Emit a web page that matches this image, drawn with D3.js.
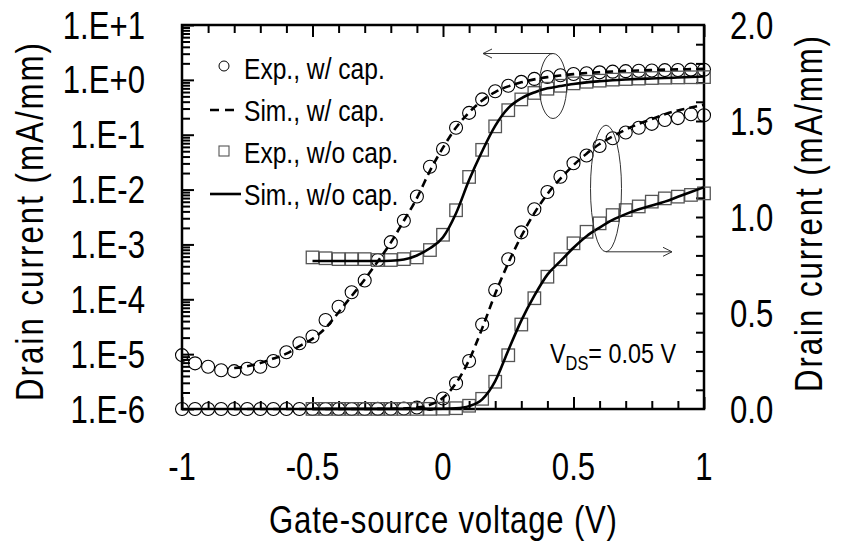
<!DOCTYPE html>
<html>
<head>
<meta charset="utf-8">
<script src="https://cdn.jsdelivr.net/npm/d3@7"></script>
<style>
  body { margin: 0; background: #fff; }
  svg { display: block; }
  text { font-family: "Liberation Sans", Arial, sans-serif; fill: #000; }
</style>
</head>
<body>
<svg id="chart" width="842" height="547"></svg>
<script>
// Gate-source voltage grids (V)
const vgExpCap = [-1.00,-0.95,-0.90,-0.85,-0.80,-0.75,-0.70,-0.65,-0.60,-0.55,-0.50,-0.45,-0.40,-0.35,-0.30,-0.25,-0.20,-0.15,-0.10,-0.05,
                  0.00,0.05,0.10,0.15,0.20,0.25,0.30,0.35,0.40,0.45,0.50,0.55,0.60,0.65,0.70,0.75,0.80,0.85,0.90,0.95,1.00];
// Measured drain current with cap (mA/mm)
const idExpCap = [9.6e-6,6.8e-6,5.9e-6,5.1e-6,4.9e-6,5.4e-6,5.9e-6,7.5e-6,1.08e-5,1.58e-5,2.1e-5,4.2e-5,7.3e-5,1.34e-4,2.2e-4,5.2e-4,1.1e-3,2.7e-3,7.5e-3,0.026,
                  0.055,0.134,0.25,0.44,0.62,0.78,0.92,1.04,1.13,1.21,1.28,1.32,1.37,1.41,1.44,1.465,1.485,1.505,1.515,1.535,1.53];

const vgExpNoCap = [-0.50,-0.45,-0.40,-0.35,-0.30,-0.25,-0.20,-0.15,-0.10,-0.05,
                    0.00,0.05,0.10,0.15,0.20,0.25,0.30,0.35,0.40,0.45,0.50,0.55,0.60,0.65,0.70,0.75,0.80,0.85,0.90,0.95,1.00];
// Measured drain current without cap (mA/mm)
const idExpNoCap = [5.8e-4,5.6e-4,5.4e-4,5.4e-4,5.4e-4,5.2e-4,5.2e-4,5.4e-4,5.8e-4,7.9e-4,
                    1.5e-3,4.2e-3,0.017,0.053,0.142,0.28,0.44,0.577,0.689,0.78,0.863,0.923,0.967,1.01,1.036,1.055,1.08,1.097,1.106,1.115,1.123];

const vgSimCap = [-0.80,-0.75,-0.70,-0.65,-0.60,-0.55,-0.50,-0.45,-0.40,-0.35,-0.30,-0.25,-0.20,-0.15,-0.10,-0.05,
                  0.00,0.05,0.10,0.15,0.20,0.25,0.30,0.35,0.40,0.45,0.50,0.55,0.60,0.65,0.70,0.75,0.80,0.85,0.90,0.95,1.00];
// Simulated drain current with cap (mA/mm)
const idSimCap = [5.6e-6,6.0e-6,6.9e-6,8.3e-6,1.02e-5,1.4e-5,1.9e-5,3.0e-5,5.8e-5,1.15e-4,2.3e-4,4.9e-4,1.08e-3,2.7e-3,7.0e-3,0.022,
                  0.058,0.135,0.255,0.42,0.60,0.76,0.90,1.02,1.12,1.20,1.27,1.33,1.38,1.42,1.455,1.485,1.51,1.535,1.555,1.57,1.585];

const vgSimNoCap = [-0.50,-0.45,-0.40,-0.35,-0.30,-0.25,-0.20,-0.15,-0.10,-0.05,
                    0.00,0.05,0.10,0.15,0.20,0.25,0.30,0.35,0.40,0.45,0.50,0.55,0.60,0.65,0.70,0.75,0.80,0.85,0.90,0.95,1.00];
// Simulated drain current without cap (mA/mm)
const idSimNoCap = [5.0e-4,5.0e-4,5.0e-4,5.0e-4,5.0e-4,5.0e-4,5.05e-4,5.3e-4,6.3e-4,8.5e-4,
                    1.35e-3,3.7e-3,0.0149,0.05,0.145,0.305,0.46,0.59,0.70,0.77,0.84,0.90,0.945,0.985,1.015,1.04,1.06,1.08,1.105,1.13,1.155];

// Axis ticks and labels
const xMajorTicks = [-1, -0.5, 0, 0.5, 1];
const xTickLabels = ["-1", "-0.5", "0", "0.5", "1"];
const logDecades = [1e-6, 1e-5, 1e-4, 1e-3, 1e-2, 1e-1, 1e0, 1e1];
const logTickLabels = ["1.E-6", "1.E-5", "1.E-4", "1.E-3", "1.E-2", "1.E-1", "1.E+0", "1.E+1"];
const linMajorTicks = [0, 0.5, 1.0, 1.5, 2.0];
const linTickLabels = ["0.0", "0.5", "1.0", "1.5", "2.0"];
const legendLabels = ["Exp., w/ cap.", "Sim., w/ cap.", "Exp., w/o cap.", "Sim., w/o cap."];

const svg = d3.select("#chart");
const L = 182, R = 704, T = 25, B = 409;
const NARROW = 0.82; // horizontal squeeze giving a condensed face

const x = d3.scaleLinear().domain([-1, 1]).range([L, R]);
const yLog = d3.scaleLog().domain([1e-6, 1e1]).range([B, T]);
const yLin = d3.scaleLinear().domain([0, 2]).range([B, T]);

// text helper: condensed text placed at (px, py)
function label(g, str, px, py, size, anchor, rot, len) {
  const t = g.append("text")
    .attr("transform", `translate(${px},${py})` + (rot ? ` rotate(${rot})` : "") + ` scale(${NARROW},1)`)
    .attr("text-anchor", anchor || "middle")
    .attr("font-size", size)
    .text(str);
  if (len) t.attr("textLength", len / NARROW).attr("lengthAdjust", "spacing");
  return t;
}

// ---- ticks (all pointing inward) ----
const minorX = d3.range(-10, 11).map(k => k / 10).filter(v => Math.abs(v * 2 - Math.round(v * 2)) > 1e-9);
function ticksX(vals, len) {
  svg.append("g").attr("transform", `translate(0,${B})`)
    .call(d3.axisBottom(x).tickValues(vals).tickSize(-len).tickFormat(""))
    .call(g => g.select(".domain").remove());
  svg.append("g").attr("transform", `translate(0,${T})`)
    .call(d3.axisTop(x).tickValues(vals).tickSize(-len).tickFormat(""))
    .call(g => g.select(".domain").remove());
}
ticksX(minorX, 8);
ticksX(xMajorTicks, 12);

const logMinor = [];
logDecades.slice(0, -1).forEach(d => { for (let k = 2; k <= 9; k++) logMinor.push(k * d); });
svg.append("g").attr("transform", `translate(${L},0)`)
  .call(d3.axisLeft(yLog).tickValues(logMinor).tickSize(-8).tickFormat(""))
  .call(g => g.select(".domain").remove());
svg.append("g").attr("transform", `translate(${L},0)`)
  .call(d3.axisLeft(yLog).tickValues(logDecades).tickSize(-12).tickFormat(""))
  .call(g => g.select(".domain").remove());

const linMinor = d3.range(1, 20).map(k => k / 10);
svg.append("g").attr("transform", `translate(${R},0)`)
  .call(d3.axisRight(yLin).tickValues(linMinor).tickSize(-8).tickFormat(""))
  .call(g => g.select(".domain").remove());

svg.selectAll(".tick line").attr("stroke", "#000").attr("stroke-width", 2);

// plot frame
svg.append("rect").attr("x", L).attr("y", T).attr("width", R - L).attr("height", B - T)
  .attr("fill", "none").attr("stroke", "#000").attr("stroke-width", 2.5);

// ---- tick labels ----
const labels = svg.append("g");
xMajorTicks.forEach((v, i) => label(labels, xTickLabels[i], x(v), 480, 38, "middle"));
logDecades.forEach((d, i) => label(labels, logTickLabels[i], 145, yLog(d) + 13.5, 38, "end"));
linMajorTicks.forEach((v, i) => label(labels, linTickLabels[i], 730, yLin(v) + 13.5, 38, "start"));

// axis titles
label(labels, "Gate-source voltage (V)", x(0), 533, 38, "middle", 0, 348);
label(labels, "Drain current (mA/mm)", 43, 222, 38, "middle", -90, 358);
label(labels, "Drain current (mA/mm)", 822, 214, 38, "middle", -90, 356);

// ---- data ----
const zip = (vs, is) => vs.map((v, k) => ({ v, i: is[k] }));
const expCap = zip(vgExpCap, idExpCap);
const expNoCap = zip(vgExpNoCap, idExpNoCap);
const simCap = zip(vgSimCap, idSimCap);
const simNoCap = zip(vgSimNoCap, idSimNoCap);

const plot = svg.append("g");
const R_C = 6.5, S_Q = 12.5;

function circles(data, ys) {
  plot.append("g").selectAll("circle").data(data).join("circle")
    .attr("cx", d => x(d.v)).attr("cy", d => ys(d.i)).attr("r", R_C)
    .attr("fill", "none").attr("stroke", "#000").attr("stroke-width", 1.1);
}
function squares(data, ys) {
  plot.append("g").selectAll("rect").data(data).join("rect")
    .attr("x", d => x(d.v) - S_Q / 2).attr("y", d => ys(d.i) - S_Q / 2)
    .attr("width", S_Q).attr("height", S_Q)
    .attr("fill", "none").attr("stroke", "#555").attr("stroke-width", 1.3);
}
function curve(data, ys, dashed) {
  const line = d3.line().x(d => x(d.v)).y(d => ys(d.i)).curve(d3.curveMonotoneX);
  plot.append("path").datum(data).attr("d", line)
    .attr("fill", "none").attr("stroke", "#000").attr("stroke-width", 2.6)
    .attr("stroke-dasharray", dashed ? "8,5" : null);
}

[yLog, yLin].forEach(ys => {
  circles(expCap, ys);
  squares(expNoCap, ys);
  curve(simCap, ys, true);
  curve(simNoCap, ys, false);
});

// ---- axis-assignment markers: ellipses with arrows ----
const ann = svg.append("g").attr("fill", "none").attr("stroke", "#333").attr("stroke-width", 1);
function arrow(x0, y0, x1, y1) {
  ann.append("line").attr("x1", x0).attr("y1", y0).attr("x2", x1).attr("y2", y1);
  const dir = Math.sign(x1 - x0);
  ann.append("path").attr("d", `M${x1 - dir * 9},${y1 - 4.5}L${x1},${y1}L${x1 - dir * 9},${y1 + 4.5}`);
}
// log-axis group (left)
ann.append("ellipse").attr("cx", 553).attr("cy", 86).attr("rx", 13.7).attr("ry", 32.5);
arrow(553, 53.5, 483, 53.5);
// linear-axis group (right)
ann.append("ellipse").attr("cx", 606).attr("cy", 188.5).attr("rx", 15.5).attr("ry", 63.3);
arrow(606, 251.8, 672, 251.8);

// ---- legend ----
const leg = svg.append("g");
const legY = [68, 110, 152, 194];
leg.append("circle").attr("cx", 224).attr("cy", legY[0] - 2).attr("r", 5)
  .attr("fill", "none").attr("stroke", "#000").attr("stroke-width", 1);
leg.append("line").attr("x1", 210).attr("x2", 240).attr("y1", legY[1]).attr("y2", legY[1])
  .attr("stroke", "#000").attr("stroke-width", 2.6).attr("stroke-dasharray", "9,6");
leg.append("rect").attr("x", 219).attr("y", legY[2] - 6).attr("width", 10).attr("height", 10)
  .attr("fill", "none").attr("stroke", "#555").attr("stroke-width", 1.1);
leg.append("line").attr("x1", 210).attr("x2", 241).attr("y1", legY[3]).attr("y2", legY[3])
  .attr("stroke", "#000").attr("stroke-width", 2.6);
legendLabels.forEach((s, k) => label(leg, s, 244, legY[k] + 10.5, 30, "start"));

// ---- bias condition ----
const vds = svg.append("text")
  .attr("transform", `translate(550,363) scale(${NARROW},1)`)
  .attr("font-size", 28.5);
vds.append("tspan").text("V");
vds.append("tspan").attr("font-size", 20).attr("dy", 7).text("DS");
vds.append("tspan").attr("font-size", 28.5).attr("dy", -7).text("= 0.05 V");
</script>
</body>
</html>
